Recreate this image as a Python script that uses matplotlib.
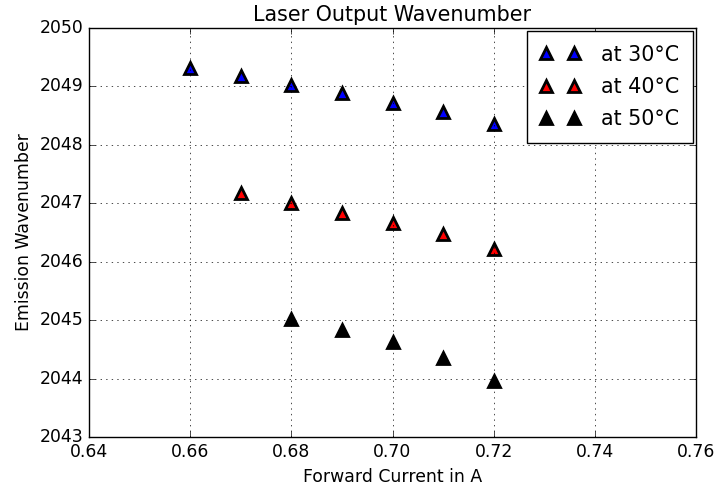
import matplotlib
matplotlib.use('Agg')
import matplotlib.pyplot as plt

plt.style.use('classic')
plt.rcParams['font.size'] = 12.4

# Messdaten
current_30 = [0.66, 0.67, 0.68, 0.69, 0.70, 0.71, 0.72]
wn_30 = [2049.32, 2049.18, 2049.02, 2048.89, 2048.72, 2048.56, 2048.36]

current_40 = [0.67, 0.68, 0.69, 0.70, 0.71, 0.72]
wn_40 = [2047.18, 2047.00, 2046.83, 2046.66, 2046.47, 2046.22]

current_50 = [0.68, 0.69, 0.70, 0.71, 0.72]
wn_50 = [2045.02, 2044.83, 2044.63, 2044.35, 2043.96]

fig = plt.figure(figsize=(7.24, 4.94), dpi=100)
ax = fig.add_axes([89 / 724, 1 - 437 / 494, (696 - 89) / 724, (437 - 28) / 494])

for xs, ys, col, lab in [(current_30, wn_30, 'blue', 'at 30°C'),
                         (current_40, wn_40, 'red', 'at 40°C'),
                         (current_50, wn_50, 'black', 'at 50°C')]:
    ax.plot(xs, ys, '^', color=col, markersize=9, markeredgewidth=2.0,
            markeredgecolor='black', label=lab)

ax.set_xlim(0.64, 0.76)
ax.set_ylim(2043, 2050)
ax.ticklabel_format(useOffset=False)
ax.grid(True)

ax.set_title('Laser Output Wavenumber')
ax.set_xlabel('Forward Current in A')
ax.set_ylabel('Emission Wavenumber')
ax.legend(loc='upper right', numpoints=2, borderpad=0.65, borderaxespad=0.15,
          labelspacing=0.6, handlelength=1.95, handletextpad=1.0)

plt.savefig('out.png', dpi=100)
plt.close()
